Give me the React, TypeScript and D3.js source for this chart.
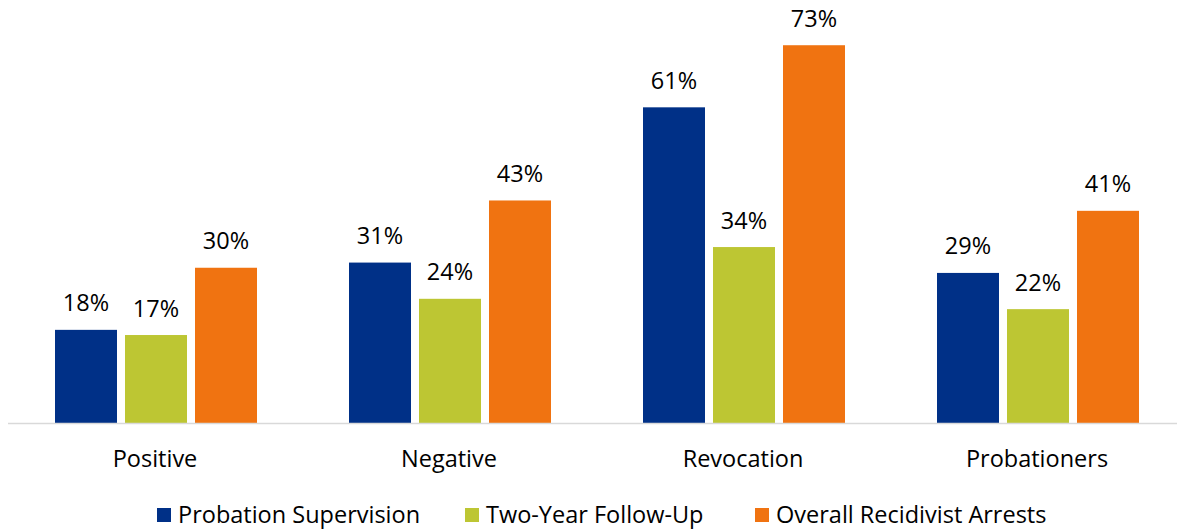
import React from "react";
import * as d3 from "d3";

const categories = ["Positive", "Negative", "Revocation", "Probationers"];
const seriesNames = ["Probation Supervision", "Two-Year Follow-Up", "Overall Recidivist Arrests"];
const probationSupervision = [18, 31, 61, 29];
const twoYearFollowUp = [17, 24, 34, 22];
const overallRecidivist = [30, 43, 73, 41];
const colors = ["#003087", "#BDC633", "#F07311"];

const W = 1177;
const H = 531;
const FONT = "'Open Sans', sans-serif";
const FS = 23.5;

export default function App() {
  const series = [probationSupervision, twoYearFollowUp, overallRecidivist];
  const x = d3.scaleBand<string>().domain(categories).range([8, 1184]).paddingInner(0).paddingOuter(0);
  const xi = d3
    .scaleBand<number>()
    .domain([0, 1, 2])
    .range([47, 249])
    .paddingInner(8 / 70)
    .paddingOuter(0);
  const y = d3.scaleLinear().domain([0, 80]).range([423, 9]);
  const legendX = [157, 465, 755];

  return (
    <svg width={W} height={H} style={{ position: "absolute", left: 0, top: 0, background: "#fff" }}>
      {categories.map((c, ci) => (
        <g key={c}>
          {series.map((s, si) => {
            const bx = (x(c) as number) + (xi(si) as number);
            const by = y(s[ci]);
            return (
              <g key={si}>
                <rect x={bx} y={by} width={xi.bandwidth()} height={y(0) - by} fill={colors[si]} />
                <text
                  x={bx + xi.bandwidth() / 2}
                  y={by - 18.5}
                  textAnchor="middle"
                  fontFamily={FONT}
                  fontSize={FS}
                  fill="#000"
                >
                  {s[ci]}%
                </text>
              </g>
            );
          })}
          <text
            x={(x(c) as number) + x.bandwidth() / 2}
            y={467}
            textAnchor="middle"
            fontFamily={FONT}
            fontSize={FS}
            fill="#000"
          >
            {c}
          </text>
        </g>
      ))}
      <line x1={8} x2={1177} y1={423.5} y2={423.5} stroke="#d9d9d9" strokeWidth={1.5} />
      {seriesNames.map((n, i) => (
        <g key={n}>
          <rect x={legendX[i]} y={508} width={14} height={14} fill={colors[i]} />
          <text x={legendX[i] + 21} y={522.5} fontFamily={FONT} fontSize={FS} fill="#000">
            {n}
          </text>
        </g>
      ))}
    </svg>
  );
}
